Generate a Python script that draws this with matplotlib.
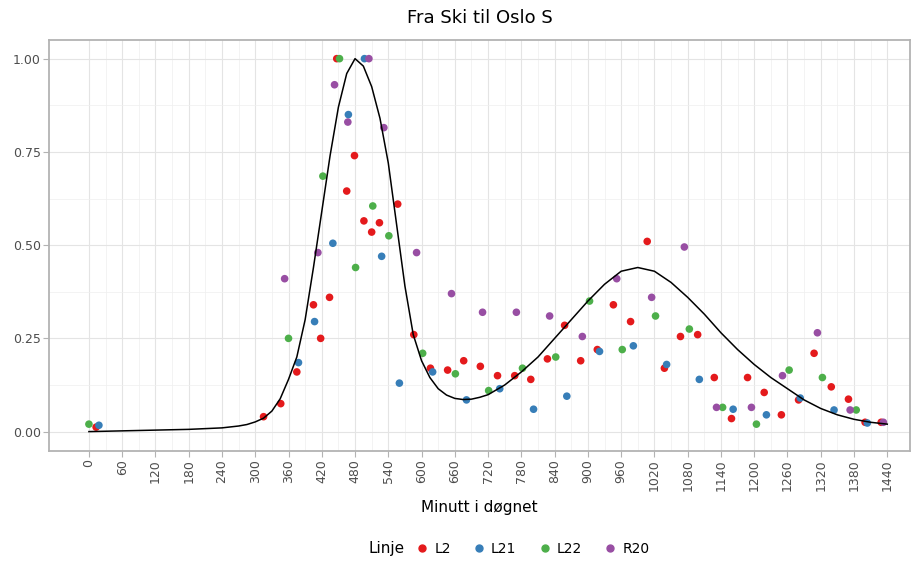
import numpy as np
import matplotlib
matplotlib.use("Agg")
import matplotlib.pyplot as plt
from matplotlib.lines import Line2D

# Departures per line: minute of day and relative load
l2_min = [13, 315, 346, 375, 405, 418, 434, 447, 465, 479, 496, 510, 524, 557, 586, 616,
          647, 676, 706, 737, 768, 797, 827, 858, 887, 917, 946, 977, 1007, 1038, 1067,
          1098, 1128, 1159, 1188, 1218, 1249, 1280, 1308, 1339, 1370, 1400, 1429]
l2_val = [0.012, 0.04, 0.075, 0.16, 0.34, 0.25, 0.36, 1.0, 0.645, 0.74, 0.565, 0.535, 0.56,
          0.61, 0.26, 0.17, 0.165, 0.19, 0.175, 0.15, 0.15, 0.14, 0.195, 0.285, 0.19, 0.22,
          0.34, 0.295, 0.51, 0.17, 0.255, 0.26, 0.145, 0.035, 0.145, 0.105, 0.045, 0.085,
          0.21, 0.12, 0.087, 0.025, 0.025]

l21_min = [18, 378, 407, 440, 468, 497, 528, 560, 620, 681, 741, 802, 862, 921, 982, 1042,
           1101, 1162, 1222, 1283, 1344, 1404]
l21_val = [0.017, 0.185, 0.295, 0.505, 0.85, 1.0, 0.47, 0.13, 0.16, 0.085, 0.115, 0.06,
           0.095, 0.215, 0.23, 0.18, 0.14, 0.06, 0.045, 0.09, 0.058, 0.023]

l22_min = [0, 360, 422, 452, 481, 512, 541, 602, 661, 721, 782, 842, 903, 962, 1022, 1083,
           1143, 1204, 1263, 1323, 1384]
l22_val = [0.02, 0.25, 0.685, 1.0, 0.44, 0.605, 0.525, 0.21, 0.155, 0.11, 0.17, 0.2, 0.35,
           0.22, 0.31, 0.275, 0.065, 0.02, 0.165, 0.145, 0.058]

r20_min = [353, 413, 443, 467, 505, 532, 591, 654, 710, 771, 831, 890, 952, 1015, 1074,
           1132, 1195, 1251, 1314, 1373, 1433]
r20_val = [0.41, 0.48, 0.93, 0.83, 1.0, 0.815, 0.48, 0.37, 0.32, 0.32, 0.31, 0.255, 0.41,
           0.36, 0.495, 0.065, 0.065, 0.15, 0.265, 0.058, 0.025]

# Fitted curve
curve_min = [0, 30, 60, 90, 120, 150, 180, 210, 240, 270, 285, 300, 315, 330, 345, 360, 375,
             390, 405, 420, 435, 450, 465, 480, 495, 510, 525, 540, 555, 570, 585, 600, 615,
             630, 645, 660, 675, 690, 705, 720, 750, 780, 810, 840, 870, 900, 930, 960, 990,
             1020, 1050, 1080, 1110, 1140, 1170, 1200, 1230, 1260, 1290, 1320, 1350, 1380,
             1410, 1440]
curve_val = [0.0, 0.001, 0.002, 0.003, 0.004, 0.005, 0.006, 0.008, 0.010, 0.015, 0.019,
             0.026, 0.036, 0.055, 0.088, 0.14, 0.20, 0.30, 0.44, 0.59, 0.74, 0.87, 0.96,
             1.0, 0.98, 0.925, 0.84, 0.72, 0.555, 0.39, 0.26, 0.19, 0.145, 0.115, 0.098,
             0.089, 0.086, 0.087, 0.092, 0.099, 0.125, 0.16, 0.20, 0.25, 0.30, 0.35, 0.395,
             0.43, 0.44, 0.43, 0.40, 0.36, 0.315, 0.265, 0.22, 0.18, 0.145, 0.115, 0.085,
             0.062, 0.045, 0.033, 0.025, 0.02]

lines = ["L2", "L21", "L22", "R20"]
colors = ["#E41A1C", "#377EB8", "#4DAF4A", "#984EA3"]
series = [(l2_min, l2_val), (l21_min, l21_val), (l22_min, l22_val), (r20_min, r20_val)]

fig = plt.figure(figsize=(9.21, 5.61), dpi=100)
ax = fig.add_axes([49 / 921, 1 - 451 / 561, (910 - 49) / 921, (451 - 40) / 561])

for (xm, yv), c in zip(series, colors):
    ax.scatter(xm, yv, s=30, color=c, edgecolors="none", zorder=3)
ax.plot(curve_min, curve_val, color="black", lw=1.1, zorder=4)

ax.set_xlim(-72, 1481)
ax.set_ylim(-0.052, 1.05)
ax.set_xticks(np.arange(0, 1441, 60))
ax.set_xticks(np.arange(30, 1441, 60), minor=True)
ax.set_yticks([0, 0.25, 0.5, 0.75, 1.0])
ax.set_yticks([0.125, 0.375, 0.625, 0.875], minor=True)
ax.set_yticklabels(["0.00", "0.25", "0.50", "0.75", "1.00"])
ax.tick_params(axis="x", labelrotation=90)
ax.tick_params(which="major", length=4, width=0.8, color="#b3b3b3", labelsize=9,
               labelcolor="#4d4d4d", pad=2)
ax.tick_params(which="minor", length=0)
ax.grid(which="major", color="#e4e4e4", lw=0.8)
ax.grid(which="minor", color="#efefef", lw=0.5)
ax.set_axisbelow(True)
for sp in ax.spines.values():
    sp.set_color("#b3b3b3")
    sp.set_linewidth(1.3)

ax.set_title("Fra Ski til Oslo S", fontsize=13, pad=12)
ax.set_xlabel("Minutt i døgnet", fontsize=11, labelpad=6)

handles = [Line2D([], [], marker="o", ls="", color=c, markersize=5) for c in colors]
fig.text(368 / 921, 1 - 549 / 561, "Linje", fontsize=11, va="center", ha="left")
fig.legend(handles, lines, loc="center left", bbox_to_anchor=(412 / 921, 1 - 549 / 561),
           ncol=4, frameon=False, fontsize=10, handletextpad=0.1, columnspacing=1.3,
           handlelength=1.5, borderaxespad=0, borderpad=0)

fig.savefig("out.png", dpi=100)
